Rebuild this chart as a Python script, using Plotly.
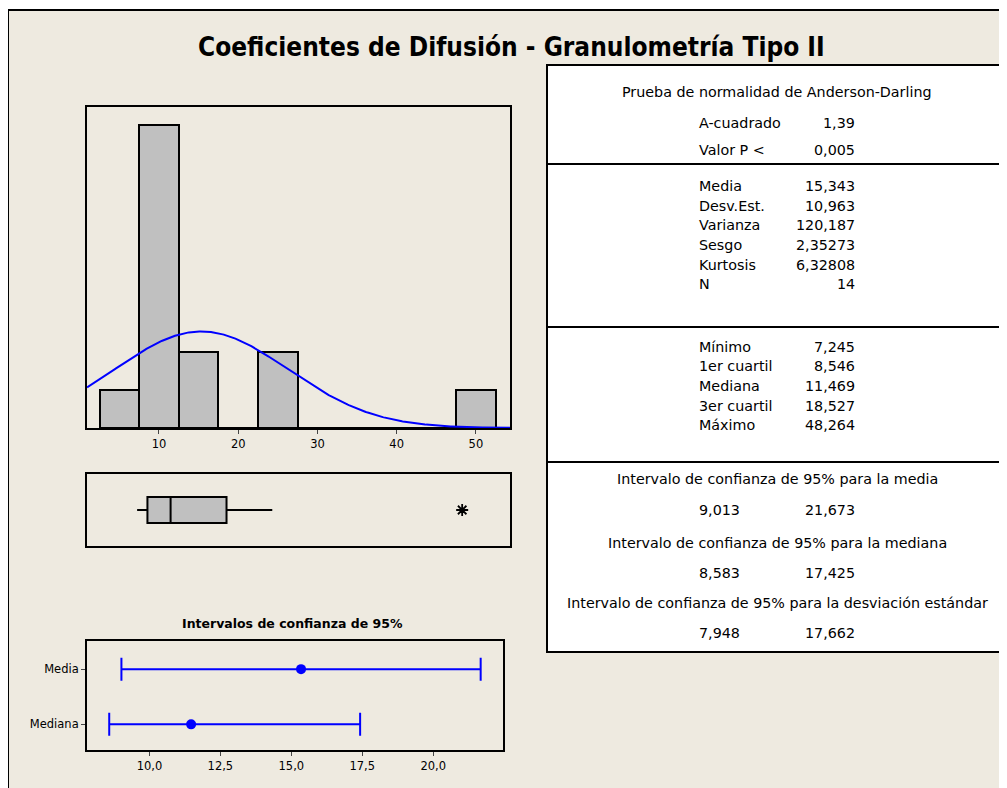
import numpy as np
import plotly.graph_objects as go

# la página deja un margen de 8 px, así que el gráfico ocupa 999x780
W, H = 999, 780
OFF = 8

# Histograma (clases de ancho 5)
bin_centers = [5, 10, 15, 20, 25, 30, 35, 40, 45, 50]
bin_counts = [1, 8, 2, 0, 2, 0, 0, 0, 0, 1]
bin_width = 5

media = 15.343
desv_est = 10.963
n_obs = 14

# Diagrama de caja
minimo = 7.245
q1 = 8.546
mediana = 11.469
q3 = 18.527
bigote_sup = 24.3
atipicos = [48.264]

# Intervalos de confianza de 95%
ic_labels = ["Mediana", "Media"]
ic_centro = [11.469, 15.343]
ic_inf = [8.583, 9.013]
ic_sup = [17.425, 21.673]
ic_ticks = [10, 12.5, 15, 17.5, 20]

# Tabla de resumen
ad_rows = [("A-cuadrado", "1,39"), ("Valor P <", "0,005")]
desc_rows = [("Media", "15,343"), ("Desv.Est.", "10,963"), ("Varianza", "120,187"),
             ("Sesgo", "2,35273"), ("Kurtosis", "6,32808"), ("N", "14")]
cuart_rows = [("Mínimo", "7,245"), ("1er cuartil", "8,546"), ("Mediana", "11,469"),
              ("3er cuartil", "18,527"), ("Máximo", "48,264")]
ic_rows = [("Intervalo de confianza de 95% para la media", "9,013", "21,673"),
           ("Intervalo de confianza de 95% para la mediana", "8,583", "17,425"),
           ("Intervalo de confianza de 95% para la desviación estándar", "7,948", "17,662")]

FONT = "DejaVu Sans"
TITLE_FONT = "DejaVu Sans Condensed, DejaVu Sans"
BG = "#EEEAE0"


def px(x, y):
    # coordenadas de pantalla -> papel
    return (x - OFF) / W, 1 - (y - OFF) / H


def xdom(a, b):
    return [px(a, 0)[0], px(b, 0)[0]]


def ydom(top, bottom):
    return [px(0, bottom)[1], px(0, top)[1]]


fig = go.Figure()

# histograma
fig.add_trace(go.Bar(x=bin_centers, y=bin_counts, width=bin_width,
                     marker=dict(color="#C0C0C0", line=dict(color="black", width=2)),
                     xaxis="x", yaxis="y", showlegend=False))

# curva normal ajustada con la media y la desviación de la tabla
xs = np.linspace(0.92, 54.3, 400)
ys = n_obs * bin_width * np.exp(-0.5 * ((xs - media) / desv_est) ** 2) / (desv_est * np.sqrt(2 * np.pi))
fig.add_trace(go.Scatter(x=xs, y=ys, mode="lines", line=dict(color="#0000FF", width=2),
                         xaxis="x", yaxis="y", showlegend=False))

# caja
fig.add_trace(go.Box(y=[0], q1=[q1], median=[mediana], q3=[q3],
                     lowerfence=[minimo], upperfence=[bigote_sup],
                     orientation="h", width=0.72, whiskerwidth=0,
                     fillcolor="#C0C0C0", line=dict(color="black", width=2),
                     boxpoints=False, xaxis="x2", yaxis="y2", showlegend=False))
fig.add_trace(go.Scatter(x=atipicos, y=[0] * len(atipicos), mode="markers",
                         marker=dict(symbol="asterisk-open", size=10, color="black",
                                     line=dict(color="black", width=1.8)),
                         xaxis="x2", yaxis="y2", showlegend=False))

# intervalos
fig.add_trace(go.Scatter(
    x=ic_centro, y=[0, 1], mode="markers",
    marker=dict(color="#0000FF", size=10),
    error_x=dict(type="data", symmetric=False,
                 array=[s - c for s, c in zip(ic_sup, ic_centro)],
                 arrayminus=[c - i for c, i in zip(ic_centro, ic_inf)],
                 color="#0000FF", thickness=2, width=11.5),
    xaxis="x3", yaxis="y3", showlegend=False))

frame = dict(showline=True, linecolor="black", linewidth=2, mirror=True,
             showgrid=False, zeroline=False)

fig.update_layout(
    width=W, height=H, margin=dict(l=0, r=0, t=0, b=0),
    paper_bgcolor="white", plot_bgcolor="white",
    separators=",.", bargap=0,
    font=dict(family=FONT, size=12, color="black"),
    xaxis=dict(domain=xdom(87, 510), range=[0.92, 54.3],
               tickvals=[10, 20, 30, 40, 50], ticks="outside", ticklen=4,
               tickfont=dict(size=11.5), anchor="y", **frame),
    yaxis=dict(domain=ydom(107, 428), range=[0, 8.47],
               showticklabels=False, anchor="x", **frame),
    xaxis2=dict(domain=xdom(87, 510), range=[0.92, 54.3],
                showticklabels=False, anchor="y2", **frame),
    yaxis2=dict(domain=ydom(474, 546), range=[-1, 1],
                showticklabels=False, anchor="x2", **frame),
    xaxis3=dict(domain=xdom(87, 503), range=[7.8, 22.46],
                tickvals=ic_ticks, tickformat=".1f", ticks="outside", ticklen=4,
                tickfont=dict(size=11.5), anchor="y3", **frame),
    yaxis3=dict(domain=ydom(641, 750), range=[-0.465, 1.51],
                tickvals=[0, 1], ticktext=ic_labels, ticks="outside", ticklen=4,
                tickfont=dict(size=11.5), anchor="x3", **frame),
)

shapes = []
# marco de fondo
x0, y0 = px(8, 10)
x1, y1 = px(1015, 800)
shapes.append(dict(type="rect", xref="paper", yref="paper", x0=x0, y0=y0, x1=x1, y1=y1,
                   fillcolor=BG, line=dict(color="black", width=2), layer="below"))
# tabla
x0, y0 = px(547, 65)
x1, y1 = px(1015, 652)
shapes.append(dict(type="rect", xref="paper", yref="paper", x0=x0, y0=y0, x1=x1, y1=y1,
                   fillcolor="white", line=dict(color="black", width=2), layer="below"))
for yl in [164, 327, 462]:
    xa, ya = px(547, yl)
    xb, _ = px(1015, yl)
    shapes.append(dict(type="line", xref="paper", yref="paper", x0=xa, y0=ya, x1=xb, y1=ya,
                       line=dict(color="black", width=2)))
fig.update_layout(shapes=shapes)


def text(x, y, s, anchor="left", size=14.3, bold=False, family=FONT):
    xp, yp = px(x, y)
    fig.add_annotation(x=xp, y=yp, xref="paper", yref="paper", text=f"<b>{s}</b>" if bold else s,
                       showarrow=False, xanchor=anchor, yanchor="middle",
                       font=dict(family=family, size=size, color="black"))


text(512, 47, "Coeficientes de Difusión - Granulometría Tipo II", "center", 26, True, TITLE_FONT)
text(292, 623, "Intervalos de confianza de 95%", "center", 12.5, True)

LX, RX, CX = 697, 857, 777
text(CX, 92, "Prueba de normalidad de Anderson-Darling", "center")
for (lab, val), yy in zip(ad_rows, [122.5, 150]):
    text(LX, yy, lab)
    text(RX, yy, val, "right")
for (lab, val), yy in zip(desc_rows, [186, 206, 225, 245, 265, 284]):
    text(LX, yy, lab)
    text(RX, yy, val, "right")
for (lab, val), yy in zip(cuart_rows, [347, 366.5, 386, 405.5, 425]):
    text(LX, yy, lab)
    text(RX, yy, val, "right")
for (head, lo, hi), yh, yv in zip(ic_rows, [479, 543, 603], [510, 573, 633]):
    text(CX, yh, head, "center")
    text(LX, yv, lo)
    text(RX, yv, hi, "right")

fig.write_html("out.html")
